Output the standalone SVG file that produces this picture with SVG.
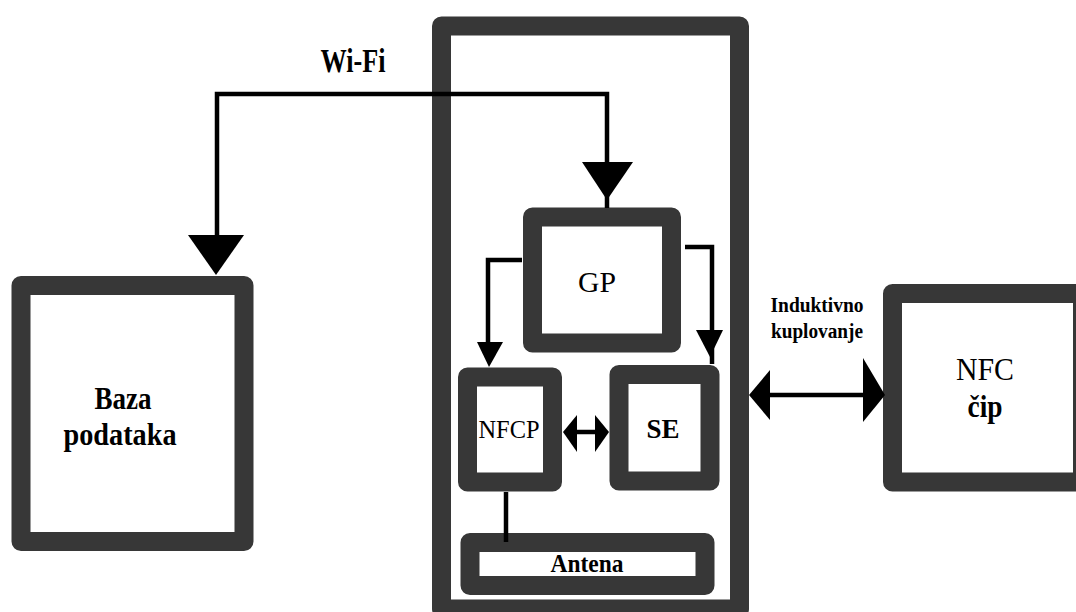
<svg xmlns="http://www.w3.org/2000/svg" width="1076" height="612" viewBox="0 0 1076 612">
<style>
.box{fill:#fff;stroke:#373737;stroke-width:19;stroke-linejoin:round}
.t{font-family:"Liberation Serif","Times New Roman",serif;fill:#000;text-anchor:middle}
.b{font-weight:bold}
.ln{fill:none;stroke:#000;stroke-width:4.5}
.ah{fill:#000}
</style>
<rect width="1076" height="612" fill="#fff"/>
<g id="phone"><rect class="box" x="441.5" y="26" width="298" height="583"/></g>
<g id="baza"><rect class="box" x="21" y="285.5" width="223" height="256"/>
<text class="t b" x="123" y="409" font-size="31" textLength="57" lengthAdjust="spacingAndGlyphs">Baza</text>
<text class="t b" x="120" y="445" font-size="31" textLength="113" lengthAdjust="spacingAndGlyphs">podataka</text></g>
<g id="gp"><rect class="box" x="532.5" y="217" width="139" height="126"/>
<text class="t" x="597" y="292" font-size="30" textLength="38" lengthAdjust="spacingAndGlyphs">GP</text></g>
<g id="nfcp"><rect class="box" x="467.5" y="377" width="85" height="105"/>
<text class="t" x="509" y="438" font-size="25" textLength="61" lengthAdjust="spacingAndGlyphs">NFCP</text></g>
<g id="se"><rect class="box" x="619" y="374.5" width="91" height="106.5"/>
<text class="t b" x="663" y="438" font-size="28" textLength="33" lengthAdjust="spacingAndGlyphs">SE</text></g>
<g id="antena"><rect class="box" x="470" y="542.5" width="235" height="43"/>
<text class="t b" x="587" y="572" font-size="25" textLength="73" lengthAdjust="spacingAndGlyphs">Antena</text></g>
<g id="nfcchip"><rect class="box" x="892.5" y="293.5" width="190" height="188.5"/>
<text class="t" x="985" y="380" font-size="31" textLength="58" lengthAdjust="spacingAndGlyphs">NFC</text>
<text class="t b" x="985" y="417" font-size="31" textLength="35" lengthAdjust="spacingAndGlyphs">čip</text></g>
<g id="labels">
<text class="t b" x="353" y="72" font-size="33" textLength="65" lengthAdjust="spacingAndGlyphs">Wi-Fi</text>
<text class="t b" x="817" y="312" font-size="20" textLength="93" lengthAdjust="spacingAndGlyphs">Induktivno</text>
<text class="t b" x="817" y="338" font-size="20" textLength="92" lengthAdjust="spacingAndGlyphs">kuplovanje</text>
</g>
<g id="connectors">
<polyline class="ln" points="217,240 217,94 607,94 607,208"/>
<polygon class="ah" points="188,235 244,235 216,275"/>
<polygon class="ah" points="582,162 633,162 607,200"/>
<polyline class="ln" points="522,260 488,260 488,345"/>
<polygon class="ah" points="477,342 503,342 489,367"/>
<polyline class="ln" points="685,247 712,247 712,364"/>
<polygon class="ah" points="696,330 723,330 710,357"/>
<line class="ln" x1="570" y1="432" x2="602" y2="432"/>
<polygon class="ah" points="563,432 577,415 577,452"/>
<polygon class="ah" points="609,432 595,415 595,452"/>
<line class="ln" x1="506" y1="492" x2="506" y2="542"/>
<line class="ln" x1="760" y1="395" x2="875" y2="395"/>
<polygon class="ah" points="749,395 770,370 770,420"/>
<polygon class="ah" points="885,395 863,358 863,422"/>
</g>
</svg>
